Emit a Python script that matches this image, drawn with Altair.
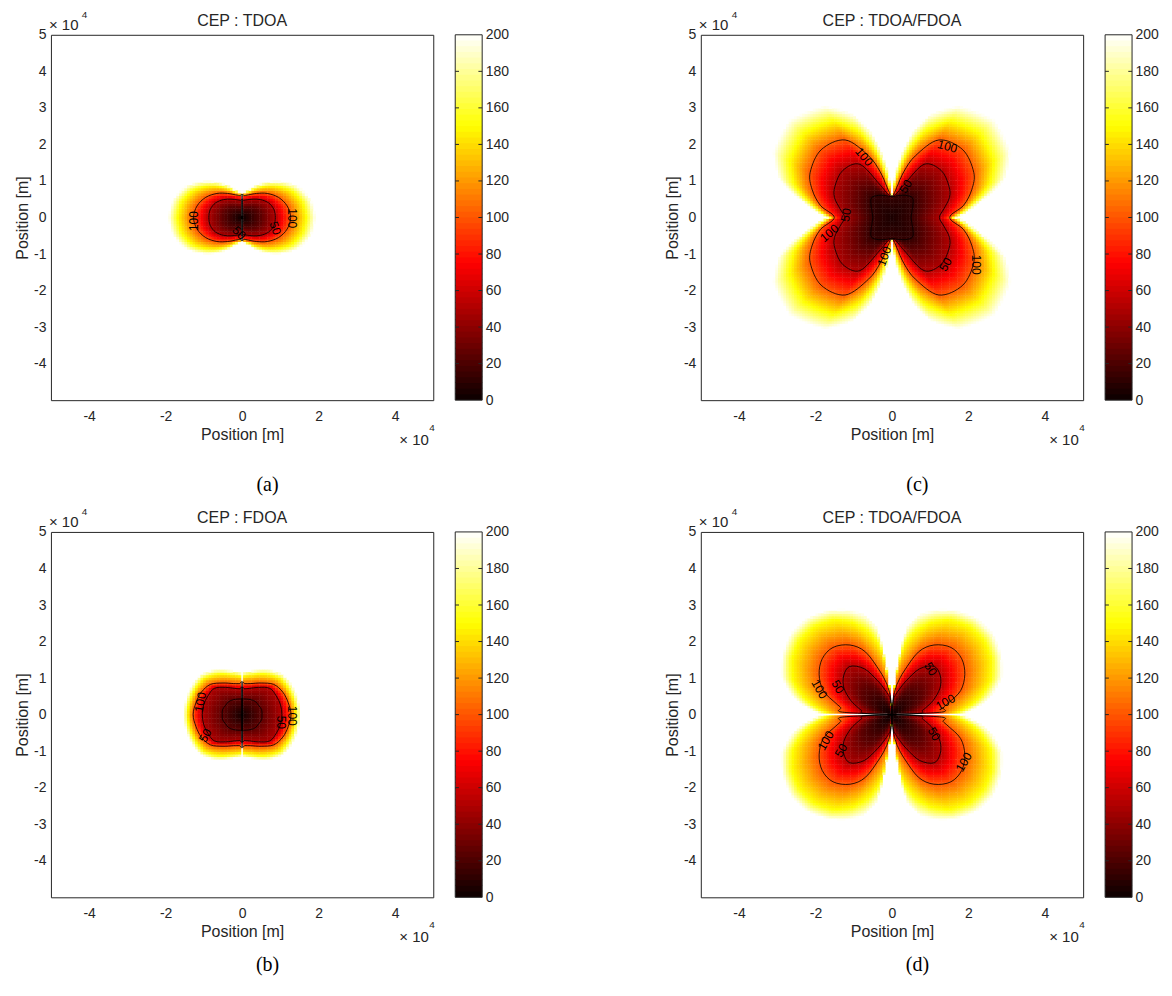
import numpy as np
import pandas as pd
import altair as alt

FONT = "Liberation Sans"
SERIF = "Liberation Serif"

# ---------------- values ----------------
# iso-CEP radii (units of 1e4 m) per polar angle in the first quadrant,
# mirrored to the other quadrants (each panel is symmetric)
A_ANG = [0, 15, 30, 45, 60, 75, 85, 90]
A_R25 = [0.50, 0.50, 0.47, 0.42, 0.36, 0.31, 0.29, 0.28]
A_R50 = [0.87, 0.86, 0.80, 0.69, 0.58, 0.50, 0.47, 0.46]
A_R100 = [1.27, 1.22, 1.10, 0.93, 0.76, 0.64, 0.60, 0.60]
A_R150 = [1.68, 1.63, 1.48, 1.22, 0.95, 0.72, 0.65, 0.64]
A_R200 = [1.92, 1.87, 1.70, 1.40, 1.08, 0.80, 0.70, 0.68]

B_ANG = [0, 15, 30, 45, 60, 75, 85, 90]
B_R25 = [0.52, 0.53, 0.50, 0.50, 0.47, 0.44, 0.43, 0.43]
B_R50 = [1.04, 1.04, 1.03, 1.02, 0.86, 0.745, 0.71, 0.71]
B_R100 = [1.28, 1.25, 1.23, 1.17, 1.00, 0.88, 0.85, 0.84]
B_R150 = [1.42, 1.41, 1.41, 1.41, 1.28, 1.13, 1.07, 1.05]
B_R200 = [1.52, 1.52, 1.53, 1.54, 1.42, 1.25, 1.17, 1.14]

C_ANG = [0, 10, 20, 30, 45, 60, 70, 76, 81, 85, 88, 90]
C_R12 = [0.50, 0.52, 0.56, 0.63, 0.76, 0.70, 0.64, 0.62, 0.60, 0.58, 0.56, 0.55]
C_R50 = [1.24, 1.38, 1.60, 1.72, 1.82, 1.68, 0.98, 0.75, 0.64, 0.60, 0.58, 0.58]
C_R100 = [1.51, 1.90, 2.22, 2.47, 2.62, 2.45, 1.80, 1.30, 0.85, 0.66, 0.60, 0.60]
C_R150 = [1.60, 2.12, 2.72, 3.08, 3.25, 3.05, 2.50, 1.95, 1.35, 0.95, 0.66, 0.62]
C_R200 = [1.70, 2.30, 3.15, 3.58, 3.78, 3.52, 3.02, 2.50, 1.85, 1.30, 0.75, 0.64]

D_ANG = [0, 3, 8, 12, 20, 30, 40, 50, 60, 68, 75, 80, 82, 84, 86, 90]
D_R25 = [0.35, 0.35, 0.40, 0.50, 0.70, 0.90, 1.00, 1.00, 0.85, 0.60, 0.40, 0.30, 0.28, 0.25, 0.18, 0.12]
D_R50 = [0.75, 0.75, 0.80, 0.90, 1.15, 1.45, 1.65, 1.72, 1.45, 1.00, 0.70, 0.55, 0.50, 0.45, 0.30, 0.20]
D_R100 = [1.30, 1.30, 1.35, 1.50, 1.91, 2.20, 2.38, 2.40, 2.20, 1.85, 1.24, 0.90, 0.75, 0.60, 0.40, 0.25]
D_R150 = [1.62, 1.78, 2.12, 2.35, 2.75, 3.02, 3.15, 3.15, 3.00, 2.72, 2.35, 1.95, 1.60, 1.00, 0.45, 0.28]
D_R200 = [1.85, 2.05, 2.45, 2.70, 3.07, 3.30, 3.45, 3.45, 3.30, 3.10, 2.86, 2.50, 2.05, 1.20, 0.50, 0.30]

# thin high-CEP seams (x1, y1, x2, y2) in units of 1e4 m
A_SEAMS = [(0, 0.05, 0, 0.86), (0, -0.05, 0, -0.86)]
B_SEAMS = [(0, 0.45, 0, 1.18), (0, -0.45, 0, -1.18)]
D_SEAMS = [(0.12, 0, 2.1, 0), (-0.12, 0, -2.1, 0)]

# contour labels: x, y, text, angle
A_LAB = [(-1.27, -0.10, "100", 270), (1.30, -0.02, "100", 90), (0.87, -0.29, "50", 70), (-0.08, -0.42, "50", 45)]
B_LAB = [(-1.09, 0.34, "100", 280), (-0.96, -0.57, "50", 300), (1.30, -0.03, "100", 90), (1.03, -0.21, "50", 90)]
C_LAB = [(-0.73, 1.66, "100", 50), (1.45, 1.94, "100", 15), (0.36, 0.85, "50", 300), (-1.20, 0.07, "50", 280),
         (-1.64, -0.43, "100", 320), (-0.20, -1.06, "100", 290), (1.40, -1.29, "50", 300), (2.19, -1.29, "100", 90)]
D_LAB = [(-1.90, 0.70, "100", 60), (-1.42, 0.76, "50", 60), (1.01, 1.25, "50", 60), (1.40, 0.34, "100", 330),
         (-1.73, -0.71, "100", 300), (-1.33, -0.98, "50", 300), (1.10, -0.53, "50", 60), (1.88, -1.30, "100", 300)]

X_TICKS = [-4, -2, 0, 2, 4]
Y_TICKS = [-4, -3, -2, -1, 0, 1, 2, 3, 4, 5]
CB_TICKS = [0, 20, 40, 60, 80, 100, 120, 140, 160, 180, 200]
CB_STEPS = 64
HOT_DOMAIN = [0, 75, 150, 200]
HOT_RANGE = ["#0b0000", "#ff0000", "#ffff00", "#ffffff"]

PANELS = {
    "a": dict(ang=A_ANG, radii=[A_R25, A_R50, A_R100, A_R150, A_R200], levels=[25, 50, 100, 150, 200], v0=0,
              seams=A_SEAMS, lab=A_LAB, title="CEP : TDOA", cap="(a)", cap_y=457, kind="pair", box=None),
    "b": dict(ang=B_ANG, radii=[B_R25, B_R50, B_R100, B_R150, B_R200], levels=[25, 50, 100, 150, 200], v0=3,
              seams=B_SEAMS, lab=B_LAB, title="CEP : FDOA", cap="(b)", cap_y=440, kind="pair", box=0),
    "c": dict(ang=C_ANG, radii=[C_R12, C_R50, C_R100, C_R150, C_R200], levels=[12, 50, 100, 150, 200], v0=5,
              seams=[], lab=C_LAB, title="CEP : TDOA/FDOA", cap="(c)", cap_y=457, kind="halves", box=0),
    "d": dict(ang=D_ANG, radii=[D_R25, D_R50, D_R100, D_R150, D_R200], levels=[25, 50, 100, 150, 200], v0=0,
              seams=D_SEAMS, lab=D_LAB, title="CEP : TDOA/FDOA", cap="(d)", cap_y=440, kind="quad", box=None),
}

W, H = 383, 366
STEP = 0.07
HALF = 0.041

grid = np.arange(-53, 54) * STEP
GX, GY = np.meshgrid(grid, grid)


def field(p):
    th = np.degrees(np.arctan2(np.abs(GY), np.abs(GX)))
    r = np.hypot(GX, GY)
    out = np.full(r.shape, np.nan)
    lo_r = np.zeros(r.shape)
    lo_v = np.full(r.shape, float(p["v0"]))
    for lev, rad in zip(p["levels"], p["radii"]):
        R = np.interp(th, p["ang"], rad)
        m = np.isnan(out) & (r <= R)
        f = (r - lo_r) / np.maximum(R - lo_r, 1e-6)
        val = lo_v + f * (lev - lo_v)
        out[m] = val[m]
        lo_r = R
        lo_v = np.full(r.shape, float(lev))
    out[np.isnan(out)] = 200.0
    return out


def cells(p):
    v = field(p)
    m = v < 199.0
    x = GX[m]
    y = GY[m]
    return pd.DataFrame({"x": np.round(x - HALF, 3), "x2": np.round(x + HALF, 3),
                         "y": np.round(y - HALF, 3), "y2": np.round(y + HALF, 3),
                         "v": np.round(v[m], 1)})


def pt(r, th, sx=1, sy=1):
    return sx * r * np.cos(np.radians(th)), sy * r * np.sin(np.radians(th))


def contours(p):
    open_rows, closed_rows = [], []
    ang, radii, levels = p["ang"], p["radii"], p["levels"]
    pid = 0
    for li, lev in enumerate(levels):
        rad = radii[li]
        if lev in (50, 100):
            if p["kind"] in ("pair", "halves"):
                full_ang = [-a for a in ang[::-1]] + ang[1:]
                full_r = rad[::-1] + rad[1:]
                for sx in (1, -1):
                    pts = [pt(rr, aa, sx) for aa, rr in zip(full_ang, full_r)]
                    if p["kind"] == "pair":
                        pts = [(0.0, 0.0)] + pts + [(0.0, 0.0)]
                    for o, (x, y) in enumerate(pts):
                        open_rows.append({"path": pid, "o": o, "x": x, "y": y})
                    pid += 1
            else:
                inner = [(a, rr) for a, rr in zip(ang, rad) if 0 < a < 90]
                for sx in (1, -1):
                    for sy in (1, -1):
                        pts = [(0.0, 0.0)] + [pt(rr, aa, sx, sy) for aa, rr in inner] + [(0.0, 0.0)]
                        for o, (x, y) in enumerate(pts):
                            open_rows.append({"path": pid, "o": o, "x": x, "y": y})
                        pid += 1
        elif p["box"] is not None and li == p["box"]:
            q1 = list(zip(ang, rad))
            full = q1 + [(180 - a, rr) for a, rr in q1[::-1][1:]] + \
                [(180 + a, rr) for a, rr in q1[1:]] + [(360 - a, rr) for a, rr in q1[::-1][1:-1]]
            for o, (a, rr) in enumerate(full):
                x, y = pt(rr, a)
                closed_rows.append({"path": pid, "o": o, "x": x, "y": y})
            pid += 1
    return pd.DataFrame(open_rows), pd.DataFrame(closed_rows)


XS = alt.Scale(domain=[-5, 5], nice=False, zero=False)
YS = alt.Scale(domain=[-5, 5], nice=False, zero=False)
CS = alt.Scale(domain=HOT_DOMAIN, range=HOT_RANGE, interpolate="rgb")
CBX = alt.Scale(domain=[0, 1], range=[W + 22, W + 49])
CBY = alt.Scale(domain=[0, 200], nice=False, zero=False)

LBL = "'' + datum.value"
XAXIS = alt.Axis(values=X_TICKS, title="Position [m]", grid=False, ticks=False, domain=False, labelExpr=LBL,
                 labelFontSize=14, titleFontSize=16, labelPadding=9, titlePadding=3)
YAXIS = alt.Axis(values=Y_TICKS, title="Position [m]", grid=False, ticks=False, domain=False, labelExpr=LBL,
                 labelFontSize=14, titleFontSize=16, labelPadding=5, titlePadding=3)
CBAXIS = alt.Axis(orient="right", offset=49, values=CB_TICKS, title=None, grid=False, ticks=False,
                  domain=False, labelFontSize=14, labelPadding=3)

bands = pd.DataFrame({"lo": [i * 200 / CB_STEPS for i in range(CB_STEPS)],
                      "hi": [min(200.0, (i + 1) * 200 / CB_STEPS + 0.6) for i in range(CB_STEPS)]})
bands["mid"] = (bands["lo"] + (bands["lo"] + 200 / CB_STEPS)) / 2
bands["xa"] = 0.0
bands["xb"] = 1.0
cb_frame = pd.DataFrame({"xa": [0.0], "xb": [1.0], "lo": [0.0], "hi": [200.0]})
cb_ticks = pd.DataFrame([{"xa": xa, "xb": xb, "lo": t}
                         for t in CB_TICKS[1:-1] for xa, xb in ((0.0, 0.14), (0.86, 1.0))])


def text_layer(t, x, y, size, font=FONT, align="center", baseline="alphabetic", color="#262626"):
    return alt.Chart(pd.DataFrame({"t": [t]})).mark_text(
        font=font, fontSize=size, align=align, baseline=baseline, color=color
    ).encode(x=alt.value(x), y=alt.value(y), text="t:N")


def make_panel(p):
    heat = alt.Chart(cells(p)).mark_rect(strokeWidth=0).encode(
        x=alt.X("x:Q", scale=XS, axis=XAXIS), x2="x2:Q",
        y=alt.Y("y:Q", scale=YS, axis=YAXIS), y2="y2:Q",
        color=alt.Color("v:Q", scale=CS, legend=None))
    layers = [heat]
    if p["seams"]:
        sdf = pd.DataFrame(p["seams"], columns=["x", "y", "x2", "y2"])
        layers.append(alt.Chart(sdf).mark_rule(color="white", strokeWidth=1.5).encode(
            x=alt.X("x:Q", scale=XS, axis=None), x2="x2:Q",
            y=alt.Y("y:Q", scale=YS, axis=None), y2="y2:Q"))
    odf, cdf = contours(p)
    layers.append(alt.Chart(odf).mark_line(color="black", strokeWidth=0.8, interpolate="cardinal").encode(
        x=alt.X("x:Q", scale=XS, axis=None), y=alt.Y("y:Q", scale=YS, axis=None),
        detail="path:N", order="o:Q"))
    if len(cdf):
        layers.append(alt.Chart(cdf).mark_line(color="black", strokeWidth=0.8,
                                               interpolate="cardinal-closed").encode(
            x=alt.X("x:Q", scale=XS, axis=None), y=alt.Y("y:Q", scale=YS, axis=None),
            detail="path:N", order="o:Q"))
    ldf = pd.DataFrame(p["lab"], columns=["x", "y", "t", "a"])
    layers.append(alt.Chart(ldf).mark_text(font=FONT, fontSize=12, color="black").encode(
        x=alt.X("x:Q", scale=XS, axis=None), y=alt.Y("y:Q", scale=YS, axis=None),
        text="t:N", angle=alt.Angle("a:Q", scale=None)))

    cb = alt.Chart(bands).mark_rect(strokeWidth=0).encode(
        x=alt.X("xa:Q", scale=CBX, axis=None), x2="xb:Q",
        y=alt.Y("lo:Q", scale=CBY, axis=CBAXIS), y2="hi:Q",
        color=alt.Color("mid:Q", scale=CS, legend=None))
    cbf = alt.Chart(cb_frame).mark_rect(fillOpacity=0, stroke="#262626", strokeWidth=1).encode(
        x=alt.X("xa:Q", scale=CBX, axis=None), x2="xb:Q",
        y=alt.Y("lo:Q", scale=CBY, axis=None), y2="hi:Q")
    cbt = alt.Chart(cb_ticks).mark_rule(color="#262626", strokeWidth=1).encode(
        x=alt.X("xa:Q", scale=CBX, axis=None), x2="xb:Q",
        y=alt.Y("lo:Q", scale=CBY, axis=None))
    layers += [cb, cbf, cbt]

    layers += [
        text_layer(p["title"], W / 2, -9, 16),
        text_layer("\u00d7 10", -2, -5, 15, align="left"),
        text_layer("4", 31, -17, 10, align="left"),
        text_layer("\u00d7 10", 349, 411, 15, align="left"),
        text_layer("4", 379, 397, 10, align="left"),
        text_layer(p["cap"], 217, p["cap_y"], 20, font=SERIF, color="black"),
    ]
    return alt.layer(*layers).resolve_scale(x="independent", y="independent").properties(width=W, height=H)


chart = alt.concat(
    make_panel(PANELS["a"]), make_panel(PANELS["c"]),
    make_panel(PANELS["b"]), make_panel(PANELS["d"]),
    columns=2, spacing={"row": 132, "column": 268}, bounds="flush"
).properties(
    padding={"left": 6, "top": 0, "right": 5, "bottom": 5}
).configure_axis(
    labelFont=FONT, titleFont=FONT, labelColor="#262626", titleColor="#262626", titleFontWeight="normal"
).configure_view(stroke="#262626", strokeWidth=1)

chart.save("out.html", embed_options={"renderer": "svg", "actions": False})
